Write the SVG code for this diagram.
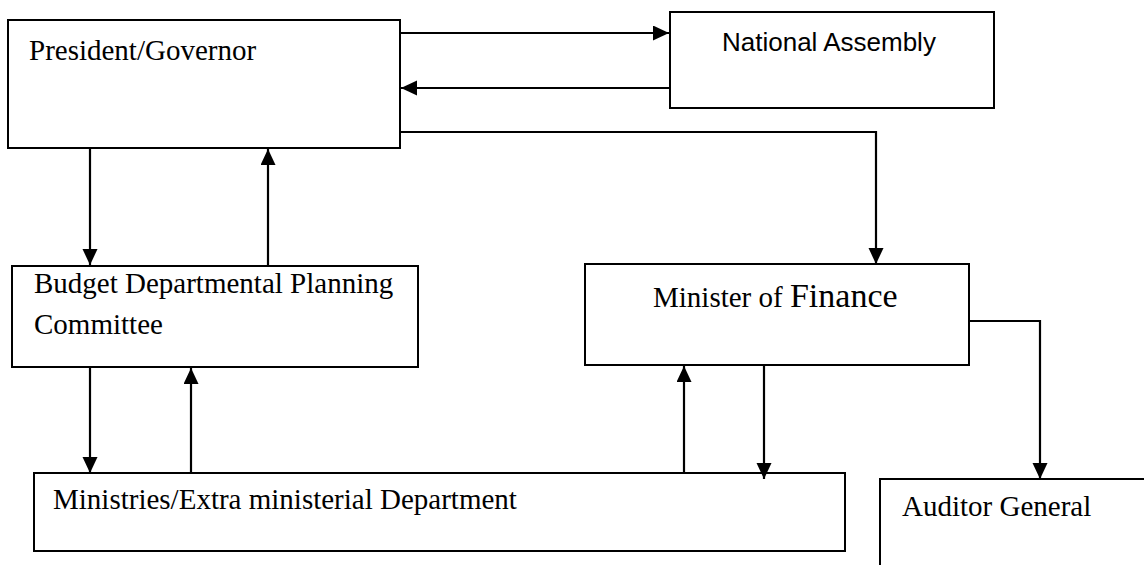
<svg xmlns="http://www.w3.org/2000/svg" width="1144" height="565" viewBox="0 0 1144 565">
<style>
.box{fill:#fff;stroke:#000;stroke-width:2}
.t{font-family:"Liberation Serif","Times New Roman",serif;font-size:29px;fill:#000}
.s{font-family:"Liberation Sans",Arial,sans-serif;font-size:26px;fill:#000}
.c{fill:none;stroke:#000;stroke-width:2.2}
</style>
<defs>
<marker id="ah" markerUnits="userSpaceOnUse" markerWidth="17" markerHeight="16" refX="16" refY="7.5" orient="auto">
<path d="M0,0 L16,7.5 L0,15 Z" fill="#000"/>
</marker>
</defs>
<rect width="1144" height="565" fill="#fff"/>
<g id="president">
<rect class="box" x="8" y="20" width="392" height="128"/>
<text class="t" x="29" y="60">President/Governor</text>
</g>
<g id="national-assembly">
<rect class="box" x="670" y="12" width="324" height="96"/>
<text class="s" x="722" y="51">National Assembly</text>
</g>
<g id="bdpc">
<rect class="box" x="12" y="266" width="406" height="101"/>
<text class="t" x="34" y="293">Budget Departmental Planning</text>
<text class="t" x="34" y="334">Committee</text>
</g>
<g id="minister">
<rect class="box" x="585" y="264" width="384" height="101"/>
<text class="t" x="653" y="307">Minister of <tspan font-size="34px">Finance</tspan></text>
</g>
<g id="ministries">
<rect class="box" x="34" y="473" width="811" height="78"/>
<text class="t" x="53" y="509">Ministries/Extra ministerial Department</text>
</g>
<g id="auditor">
<rect class="box" x="880" y="479" width="300" height="120"/>
<text class="t" x="902" y="516">Auditor General</text>
</g>
<g id="connectors">
<line class="c" x1="400" y1="33" x2="669" y2="33" marker-end="url(#ah)"/>
<line class="c" x1="670" y1="88" x2="401" y2="88" marker-end="url(#ah)"/>
<polyline class="c" points="400,132 876,132 876,264" marker-end="url(#ah)"/>
<line class="c" x1="90" y1="148" x2="90" y2="265" marker-end="url(#ah)"/>
<line class="c" x1="268" y1="266" x2="268" y2="149" marker-end="url(#ah)"/>
<line class="c" x1="90" y1="367" x2="90" y2="473" marker-end="url(#ah)"/>
<line class="c" x1="191" y1="473" x2="191" y2="368" marker-end="url(#ah)"/>
<line class="c" x1="684" y1="473" x2="684" y2="366" marker-end="url(#ah)"/>
<line class="c" x1="764" y1="365" x2="764" y2="479" marker-end="url(#ah)"/>
<polyline class="c" points="969,321 1040,321 1040,479" marker-end="url(#ah)"/>
</g>
</svg>
